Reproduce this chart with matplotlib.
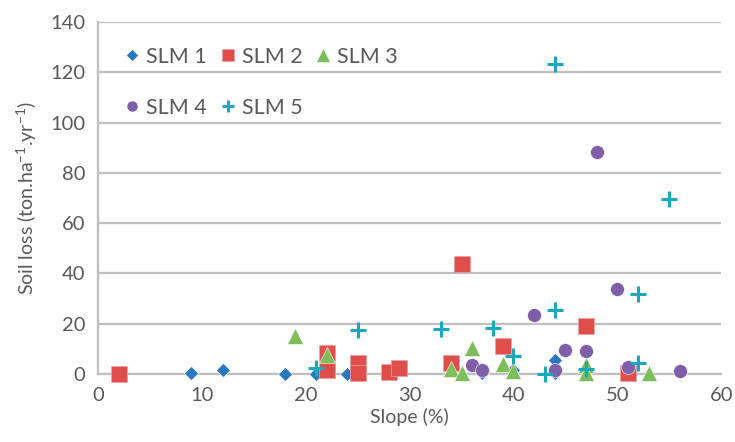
import matplotlib.pyplot as plt

plt.rcParams['font.family'] = ['Lato', 'DejaVu Sans']
plt.rcParams['mathtext.fontset'] = 'custom'
plt.rcParams['mathtext.rm'] = 'Lato'

# SLM 1 .. SLM 5 : slope (%) vs soil loss (ton/ha/yr)
slm1_x = [9, 12, 18, 21, 24, 37, 40, 44, 44]
slm1_y = [0.5, 1.5, 0.2, 0.2, 0.2, 0.3, 1.5, 5.5, 0.3]

slm2_x = [2, 22, 22, 25, 25, 28, 29, 34, 35, 39, 47, 51]
slm2_y = [0.2, 8.5, 1.5, 4.5, 0.5, 1.0, 2.5, 4.2, 43.8, 11.0, 19.3, 0.6]

slm3_x = [19, 22, 34, 35, 36, 39, 40, 47, 47, 53]
slm3_y = [15.0, 7.5, 2.0, 0.3, 10.5, 4.0, 1.2, 3.5, 0.5, 0.5]

slm4_x = [36, 37, 42, 44, 45, 47, 48, 50, 51, 56]
slm4_y = [3.5, 1.5, 23.5, 1.6, 9.5, 9.0, 88.5, 34.0, 2.8, 1.3]

slm5_x = [21, 25, 33, 38, 40, 43, 44, 44, 47, 52, 52, 55]
slm5_y = [2.5, 17.5, 17.8, 18.3, 7.0, 0.0, 123.5, 25.5, 2.0, 32.0, 4.5, 69.5]

grey = '#595959'
fig = plt.figure(figsize=(7.35, 4.42), dpi=100)
ax = fig.add_axes([0.1333, 0.1538, 0.848, 0.7962])

h1, = ax.plot(slm1_x, slm1_y, 'D', color='#2878BE', ms=7.5, mec='white', mew=0.4, clip_on=False, label='SLM 1')
h2, = ax.plot(slm2_x, slm2_y, 's', color='#E04E4C', ms=11, mec='#f0a0a0', mew=0.5, clip_on=False, label='SLM 2')
h3, = ax.plot(slm3_x, slm3_y, '^', color='#7DBE5A', ms=12, mec='white', mew=0.4, clip_on=False, label='SLM 3')
h4, = ax.plot(slm4_x, slm4_y, 'o', color='#7F5FA8', ms=10, mec='white', mew=0.4, clip_on=False, label='SLM 4')
h5, = ax.plot(slm5_x, slm5_y, '+', color='#19A8BE', ms=11, mew=2.2, clip_on=False, label='SLM 5')

ax.set_xlim(0, 60)
ax.set_ylim(0, 140)
ax.set_xticks(range(0, 61, 10))
ax.set_yticks(range(0, 141, 20))
ax.grid(axis='y', color='#bfbfbf', linewidth=1.6)
ax.set_axisbelow(True)
for s in ['top', 'right']:
    ax.spines[s].set_visible(False)
for s in ['left', 'bottom']:
    ax.spines[s].set_color('#bfbfbf')
    ax.spines[s].set_linewidth(1.6)
    ax.spines[s].set_zorder(0.5)
ax.tick_params(length=0, colors=grey, labelsize=14.5, pad=9)

ax.set_xlabel('Slope (%)', color=grey, fontsize=14, labelpad=3)
ax.set_ylabel('Soil loss (ton.ha$^{\\mathregular{-1}}$.yr$^{\\mathregular{-1}}$)', color=grey, fontsize=14, labelpad=8)

leg = ax.legend([h1, h4, h2, h5, h3], ['SLM 1', 'SLM 4', 'SLM 2', 'SLM 5', 'SLM 3'],
                ncol=3, loc='upper left', bbox_to_anchor=(0.012, 0.985), frameon=False,
                fontsize=15.5, labelspacing=1.45, handlelength=0.7, handletextpad=0.3,
                columnspacing=0.6, markerscale=0.8)
for t in leg.get_texts():
    t.set_color(grey)

plt.savefig('out.png', dpi=100)
